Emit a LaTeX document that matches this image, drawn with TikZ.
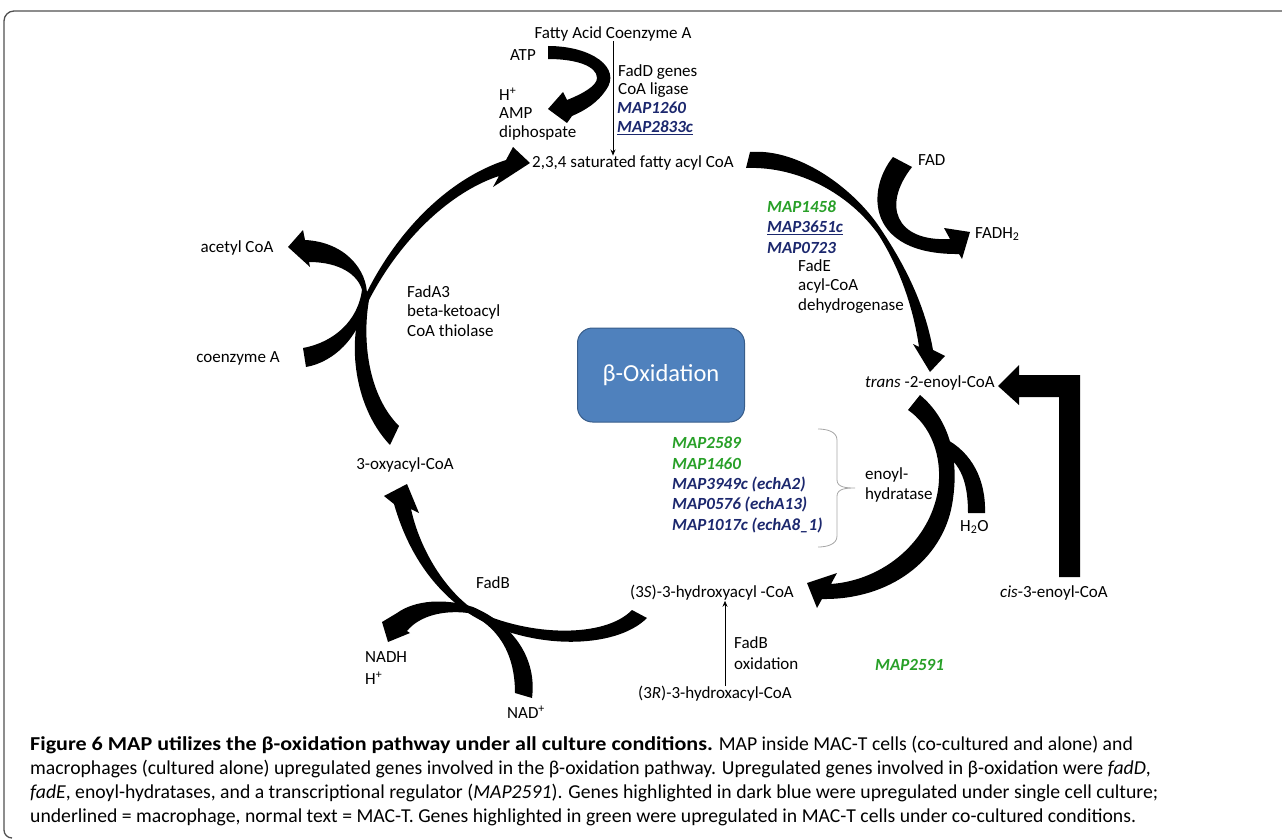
\documentclass[tikz,border=0pt]{standalone}
\usepackage{fontspec}
\setmainfont{Carlito}
\usetikzlibrary{arrows.meta,calc}
\definecolor{mapgreen}{RGB}{40,160,40}
\definecolor{mapblue}{RGB}{28,40,110}
\definecolor{boxfill}{RGB}{79,129,189}
\definecolor{boxline}{RGB}{56,93,138}
\definecolor{framec}{RGB}{80,80,80}
\begin{document}
\begin{tikzpicture}[x=1pt,y=-1pt,
  t/.style={font=\fontsize{17}{20}\selectfont, inner sep=0pt, anchor=west},
  tc/.style={font=\fontsize{17}{20}\selectfont, inner sep=0pt},
  gn/.style={t, font=\fontsize{17}{20}\selectfont\bfseries\itshape, text=mapgreen},
  bl/.style={t, font=\fontsize{17}{20}\selectfont\bfseries\itshape, text=mapblue},
  fat/.style={fill=black},
  thinarr/.style={-{Stealth[length=6pt,width=5pt]}, line width=0.8pt},
  boxst/.style={draw=boxline, fill=boxfill, line width=1pt, rounded corners=15pt,
    minimum width=167pt, minimum height=94pt, text=white, font=\fontsize{24.5}{28}\selectfont},
  capt/.style={font=\fontsize{19.7}{24}\selectfont, inner sep=0pt, align=left}]
\useasboundingbox (0,0) rectangle (1282,840);

% frame
\draw[framec, line width=1.3pt] (1282,11) -- (14,11) to[out=180,in=90] (4,21) -- (4,830) to[out=-90,in=180] (12,838);

% ---- fat arrows ----
% A: ATP -> H+ AMP diphosphate
\fill[fat] (548,46) .. controls (592,46) and (622,68) .. (606,90) .. controls (598,102) and (586,110) .. (572,116) -- (567,123) -- (548,109) -- (563,92) -- (567,100) .. controls (582,94) and (597,86) .. (597,78) .. controls (597,66) and (576,59) .. (548,59) -- cycle;
% B: 3-oxyacyl -> 2,3,4 saturated
\fill[fat] (390,445) .. controls (352,405) and (346,335) .. (366,294) .. controls (395,235) and (445,180) .. (506,160) -- (513,147) -- (530,163) -- (493,187) -- (499,176) .. controls (450,192) and (400,240) .. (369,300) .. controls (362,340) and (368,395) .. (399,426) -- cycle;
% K: coenzyme A -> acetyl CoA
\fill[fat] (306,367) .. controls (335,362) and (362,335) .. (367,297) .. controls (368,270) and (345,242) .. (305,240) -- (303,230) -- (288,247) -- (310,267) -- (309,262) .. controls (340,262) and (358,275) .. (362,290) .. controls (358,320) and (335,342) .. (303,348) -- cycle;
% C: saturated -> trans
\fill[fat] (750,152) .. controls (800,148) and (855,190) .. (880,228) .. controls (905,265) and (925,305) .. (933,350) -- (945,356) -- (930,372) -- (913,344) -- (919,347) .. controls (913,305) and (898,265) .. (878,234) .. controls (850,195) and (800,166) .. (746,168) -- cycle;
% D: FAD -> FADH2
\fill[fat] (893,157) .. controls (866,190) and (866,255) .. (959,254) -- (962,259) -- (970,232) -- (944,228) -- (950,239) .. controls (895,242) and (882,205) .. (912,167) -- cycle;
% E: trans -> (3S)
\fill[fat] (920,395) .. controls (950,420) and (960,460) .. (952,505) .. controls (942,560) and (890,600) .. (822,599) -- (817,608) -- (807,583) -- (837,573) -- (831,584) .. controls (885,580) and (930,540) .. (938,490) .. controls (943,455) and (930,425) .. (908,410) -- cycle;
% F: H2O
\fill[fat] (968,513) -- (985,513) .. controls (986,480) and (972,452) .. (944,438) -- (940,452) .. controls (962,462) and (968,485) .. (968,513) -- cycle;
% G: cis -> trans
\fill[fat] (1080,375) -- (1080,577) -- (1059,577) -- (1059,397) -- (1019,397) -- (1019,405) -- (998,386) -- (1019,365) -- (1019,375) -- cycle;
% H: (3S) -> 3-oxyacyl
\fill[fat] (647,618) .. controls (615,650) and (530,650) .. (473,616) .. controls (440,595) and (410,560) .. (394,504) -- (384,496) -- (407,484) -- (419,513) -- (411,509) .. controls (420,550) and (445,590) .. (474,610) .. controls (530,637) and (605,638) .. (632,610) -- cycle;
% I: NAD+ -> NADH
\fill[fat] (532,698) .. controls (537,660) and (515,625) .. (473,607) .. controls (445,598) and (415,600) .. (397,613) -- (382,622) -- (388,642) -- (410,633) -- (407,631) .. controls (420,615) and (445,610) .. (468,613) .. controls (495,625) and (515,650) .. (515,693) -- cycle;

% ---- text nodes ----
\node[tc] (fatty) at (613,34) {Fatty Acid Coenzyme A};
\node[tc] (atp) at (523,55) {ATP};
\node[t] (fadd) at (618,72) {FadD genes};
\node[t] (coalig) at (618,90) {CoA ligase};
\node[bl] (m1260) at (617,108) {MAP1260};
\node[bl] (m2833) at (617,128) {\underline{MAP2833c}};
\node[t] (hplus) at (499,94) {H\textsuperscript{+}};
\node[t] (amp) at (499,113) {AMP};
\node[t] (diph) at (499,133) {diphospate};
\node[tc] (sat) at (633,163) {2,3,4 saturated fatty acyl CoA};
\node[tc] (acetyl) at (237,248) {acetyl CoA};
\node[tc] (coenz) at (238,358) {coenzyme A};
\node[t] (fada3) at (407,292) {FadA3};
\node[t] (beta) at (407,312) {beta-ketoacyl};
\node[t] (thiol) at (407,331) {CoA thiolase};
\node[tc] (oxy) at (405,465) {3-oxyacyl-CoA};
\node[boxst] (box) at (661,375) {β-Oxidation};
\node[gn] (m1458) at (767,207) {MAP1458};
\node[bl] (m3651) at (767,228) {\underline{MAP3651c}};
\node[bl] (m0723) at (767,248) {MAP0723};
\node[t] (fade) at (798,266) {FadE};
\node[t] (acyl) at (798,286) {acyl-CoA};
\node[t] (dehyd) at (798,306) {dehydrogenase};
\node[t] (fad) at (918,160) {FAD};
\node[t] (fadh) at (975,234) {FADH\textsubscript{2}};
\node[t] (trans) at (865,383) {\textit{trans} -2-enoyl-CoA};
\node[gn] (m2589) at (672,443) {MAP2589};
\node[gn] (m1460) at (672,464) {MAP1460};
\node[bl] (m3949) at (672,484) {MAP3949c (echA2)};
\node[bl] (m0576) at (672,504) {MAP0576 (echA13)};
\node[bl] (m1017) at (672,525) {MAP1017c (echA8\_1)};
\node[t] (enoyl) at (865,475) {enoyl-};
\node[t] (hydra) at (865,495) {hydratase};
\node[t] (h2o) at (960,527) {H\textsubscript{2}O};
\node[t] (cis) at (1000,593) {\textit{cis}-3-enoyl-CoA};
\node[t] (s3) at (630,593) {(3\textit{S})-3-hydroxyacyl -CoA};
\node[t] (fadb2) at (734,643) {FadB};
\node[t] (oxid) at (734,664) {oxidation};
\node[gn] (m2591) at (875,665) {MAP2591};
\node[t] (r3) at (638,694) {(3\textit{R})-3-hydroxacyl-CoA};
\node[tc] (fadb) at (493,583) {FadB};
\node[t] (nadh) at (365,657) {NADH};
\node[t] (hplus2) at (365,678) {H\textsuperscript{+}};
\node[t] (nad) at (507,712) {NAD\textsuperscript{+}};

% thin arrows
\draw[thinarr] (fatty.south) -- (fatty.south |- sat.north);
\coordinate (ax) at (725,650);
\draw[thinarr] (r3.north -| ax) -- (s3.south -| ax);

% brace
\draw[gray!70, line width=0.8pt] (818,429) to[out=0,in=90] (837,440) -- (837,480) to[out=-90,in=180] (855,488) to[out=180,in=90] (837,496) -- (837,536) to[out=-90,in=0] (818,547);

% caption
\node[capt, anchor=north west] (cap) at (30,736) {{\bfseries\addfontfeature{FakeStretch=1.12}Figure 6 MAP utilizes the β-oxidation pathway under all culture conditions.} MAP inside MAC-T cells (co-cultured and alone) and\\
macrophages (cultured alone) upregulated genes involved in the β-oxidation pathway. Upregulated genes involved in β-oxidation were \textit{fadD},\\
\textit{fadE}, enoyl-hydratases, and a transcriptional regulator (\textit{MAP2591}). Genes highlighted in dark blue were upregulated under single cell culture;\\
underlined = macrophage, normal text = MAC-T. Genes highlighted in green were upregulated in MAC-T cells under co-cultured conditions.};
\end{tikzpicture}
\end{document}
